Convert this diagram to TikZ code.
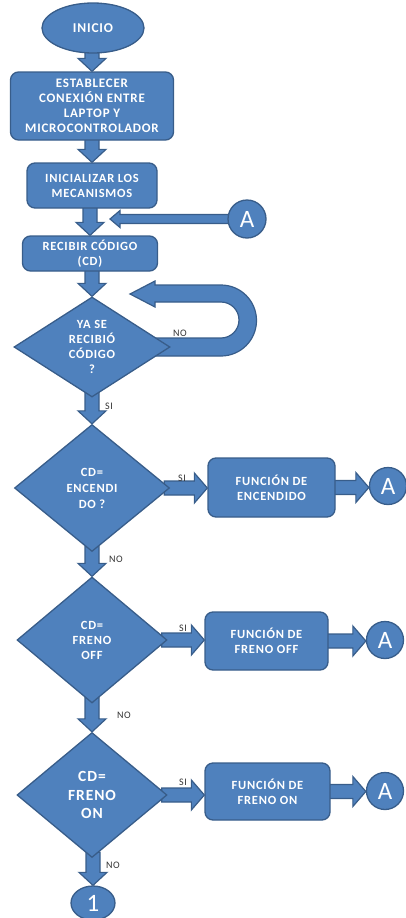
\documentclass[tikz,border=0pt]{standalone}
\usepackage{fontspec}
\setmainfont{Carlito}
\usetikzlibrary{shapes.geometric,calc,backgrounds}
\definecolor{bfill}{HTML}{4F81BD}
\definecolor{bline}{HTML}{385D8A}
\definecolor{lbl}{HTML}{333333}
\newcommand{\bx}[2]{\fontsize{#1}{#2}\selectfont\bfseries\addfontfeature{LetterSpace=6}}
\newcommand{\fatdown}[2]{\path[fat] let \p1=(#1), \p2=(#2) in
  (\x2-7pt,\y1+6pt) -- (\x2-7pt,\y2+13pt) -- (\x2-14pt,\y2+13pt) -- (\x2,\y2)
  -- (\x2+14pt,\y2+13pt) -- (\x2+7pt,\y2+13pt) -- (\x2+7pt,\y1+6pt) -- cycle;}
\newcommand{\fatright}[2]{\path[fat] let \p1=(#1), \p2=(#2) in
  (\x1-6pt,\y1+7pt) -- (\x2-13pt,\y1+7pt) -- (\x2-13pt,\y1+15pt) -- (\x2,\y1)
  -- (\x2-13pt,\y1-15pt) -- (\x2-13pt,\y1-7pt) -- (\x1-6pt,\y1-7pt) -- cycle;}
\tikzset{
  base/.style={fill=bfill, draw=bline, line width=1.3pt, text=white, align=center, inner sep=0pt},
  boxnode/.style={base, rectangle, rounded corners=8pt, font={\bx{12.5}{15}}},
  dia/.style={base, diamond, aspect=1.3, font={\bx{12.5}{15}}},
  term/.style={base, ellipse},
  conn/.style={base, circle, font=\fontsize{25}{25}\selectfont, minimum size=37pt},
  fat/.style={fill=bfill, draw=bline, line width=1.2pt, line join=miter},
  lab/.style={text=lbl, font=\fontsize{10}{10}\selectfont\addfontfeature{LetterSpace=6}, inner sep=0pt}
}
\begin{document}
\begin{tikzpicture}[x=1pt,y=-1pt]
\useasboundingbox (0,0) rectangle (405,918);
% nodes
\node[term, font={\bx{13.5}{15}}, minimum width=102pt, minimum height=50pt] (ini) at (93,28) {INICIO};
\node[boxnode, font={\bx{13}{15}}, minimum width=163pt, minimum height=68pt] (b1) at (92,106)
  {ESTABLECER\\CONEXIÓN ENTRE\\LAPTOP Y\\MICROCONTROLADOR};
\node[boxnode, minimum width=130pt, minimum height=45pt] (b2) at (92,185.5) {INICIALIZAR LOS\\MECANISMOS};
\node[conn, minimum size=38pt] (a1) at (247,219) {A};
\node[boxnode, minimum width=135pt, minimum height=35pt] (b3) at (90,253.5) {RECIBIR CÓDIGO\\(CD)};
\node[dia, aspect=1.56, minimum width=156pt, minimum height=100pt] (d1) at (92,347) {YA SE\\RECIBIÓ\\CÓDIGO\\?};
\node[dia, font={\bx{12.5}{16}}, minimum width=155pt, minimum height=127pt] (d2) at (92,488) {CD=\\ENCENDI\\DO ?};
\node[boxnode, minimum width=127pt, minimum height=59pt] (f1) at (271.5,487.5) {FUNCIÓN DE\\ENCENDIDO};
\node[conn] (a2) at (388,486) {A};
\node[dia, minimum width=150pt, minimum height=126pt] (d3) at (92,640) {CD=\\FRENO\\OFF};
\node[boxnode, minimum width=123pt, minimum height=58pt] (f2) at (266.5,641) {FUNCIÓN DE\\FRENO OFF};
\node[conn] (a3) at (385,640) {A};
\node[dia, font={\bx{15.5}{18.5}}, minimum width=150pt, minimum height=125pt] (d4) at (92,795) {CD=\\FRENO\\ON};
\node[boxnode, minimum width=125pt, minimum height=57pt] (f3) at (267.5,791.5) {FUNCIÓN DE\\FRENO ON};
\node[conn] (a4) at (385,791) {A};
\node[term, font=\fontsize{25}{25}\selectfont, minimum width=44pt, minimum height=34pt] (c1) at (93,903) {1};
\coordinate (join) at (110,219);
% labels
\node[lab] (l1) at (180,333) {NO};
\node[lab] (l2) at (109,406) {SI};
\node[lab] (l3) at (182,478) {SI};
\node[lab] (l4) at (116,559) {NO};
\node[lab] (l5) at (183,628) {SI};
\node[lab] (l6) at (124,715) {NO};
\node[lab] (l7) at (183,782) {SI};
\node[lab] (l8) at (113,865) {NO};
% connectors
\begin{scope}[on background layer]
\fatdown{ini.south}{b1.north}
\fatdown{b1.south}{b2.north}
\fatdown{b2.south}{b3.north}
\fatdown{b3.south}{d1.north}
\fatdown{d1.south}{d2.north}
\fatdown{d2.south}{d3.north}
\fatdown{d3.south}{d4.north}
\fatdown{d4.south}{c1.north}
\fatright{d2.east}{f1.west}
\fatright{d3.east}{f2.west}
\fatright{d4.east}{f3.west}
\fatright{f1.east}{a2.west}
\fatright{f2.east}{a3.west}
\fatright{f3.east}{a4.west}
\path[fat] let \p1=(a1.west), \p2=(join) in
  (\x1+5pt,\y2+4.5pt) -- (\x2+10pt,\y2+4.5pt) -- (\x2+10pt,\y2+8.5pt) -- (\x2,\y2)
  -- (\x2+10pt,\y2-8.5pt) -- (\x2+10pt,\y2-4.5pt) -- (\x1+5pt,\y2-4.5pt) -- cycle;
% loop back (NO)
\path[fat] (150,356) -- (221,356) arc[start angle=-90, end angle=90, radius=35.5pt]
  -- (155,285) -- (155,281) -- (130,294) -- (155,307) -- (155,302) -- (221,302)
  arc[start angle=90, end angle=-90, radius=18pt] -- (150,338) -- cycle;
\end{scope}
\end{tikzpicture}
\end{document}
